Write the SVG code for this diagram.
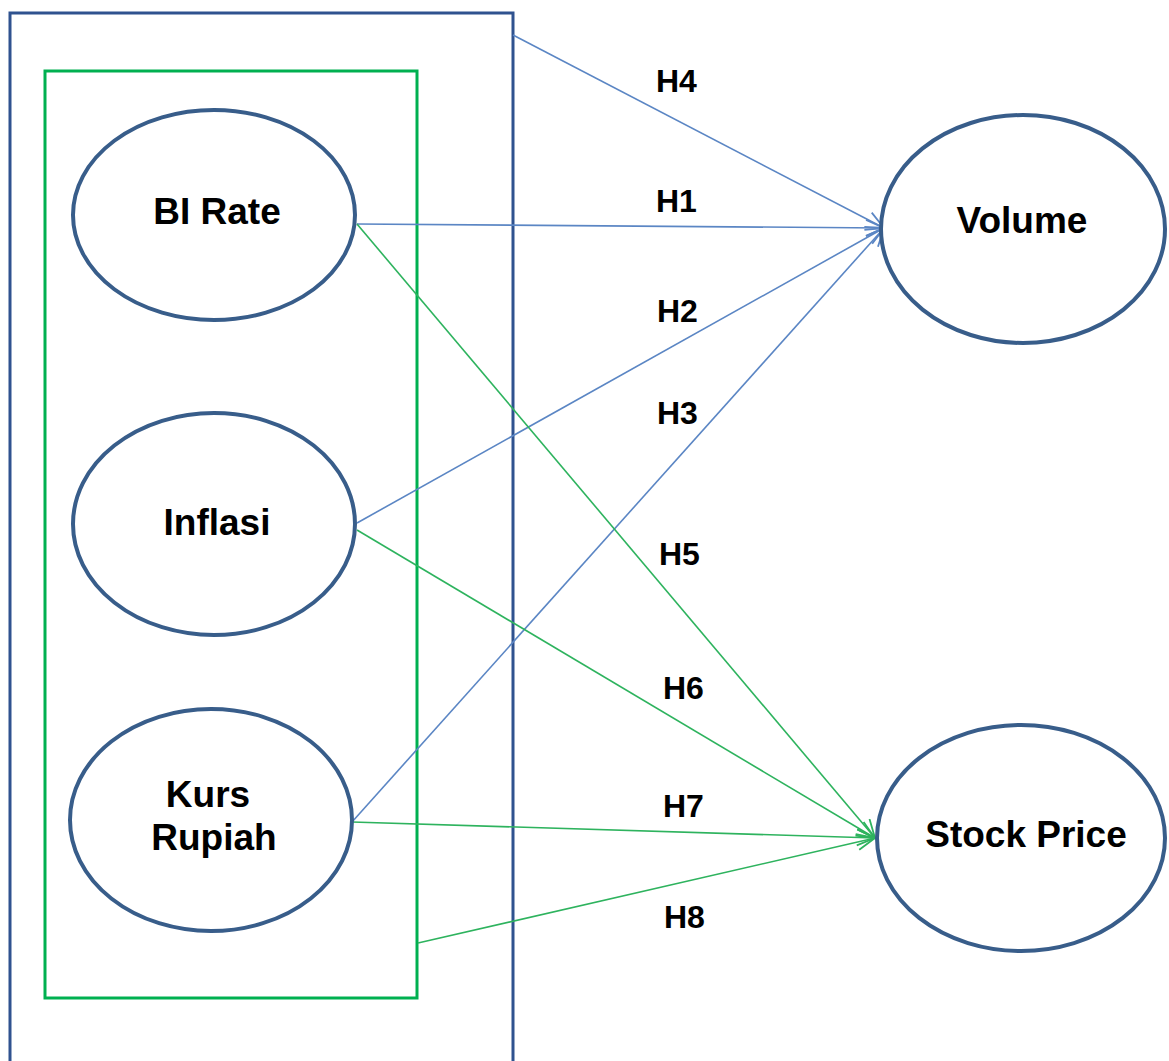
<svg xmlns="http://www.w3.org/2000/svg" width="1169" height="1061" viewBox="0 0 1169 1061">
<style>
.node{fill:#fff;stroke:#385d8a;stroke-width:4}
.lbl{font-family:"Liberation Sans",Arial,sans-serif;font-weight:bold;font-size:37px;fill:#000;text-anchor:middle}
.h{font-family:"Liberation Sans",Arial,sans-serif;font-weight:bold;font-size:32px;fill:#000}
.b{stroke:#5b86c4;stroke-width:1.6;fill:none}
.g{stroke:#2eb35e;stroke-width:1.6;fill:none}
</style>
<defs>
<marker id="ab" markerUnits="userSpaceOnUse" markerWidth="24" markerHeight="20" refX="20" refY="9" orient="auto" viewBox="0 0 24 20">
<path d="M2,1 L20,9 L2,17" fill="none" stroke="#5b86c4" stroke-width="1.8"/>
</marker>
<marker id="ag" markerUnits="userSpaceOnUse" markerWidth="24" markerHeight="20" refX="20" refY="9" orient="auto" viewBox="0 0 24 20">
<path d="M2,1 L20,9 L2,17" fill="none" stroke="#2eb35e" stroke-width="1.8"/>
</marker>
</defs>
<rect width="1169" height="1061" fill="#fff"/>
<g id="outer-box"><path d="M10,1061 L10,13 L513,13 L513,1061" fill="none" stroke="#2f528f" stroke-width="3"/></g>
<g id="inner-box"><rect x="45" y="71" width="372" height="927" fill="none" stroke="#00b050" stroke-width="3"/></g>
<g id="connectors">
<line class="b" x1="513" y1="35" x2="884" y2="228" marker-end="url(#ab)"/>
<line class="b" x1="357" y1="224" x2="884" y2="228" marker-end="url(#ab)"/>
<line class="b" x1="357" y1="523" x2="884" y2="228" marker-end="url(#ab)"/>
<line class="b" x1="352" y1="822" x2="884" y2="228" marker-end="url(#ab)"/>
<line class="g" x1="357" y1="224" x2="875" y2="838" marker-end="url(#ag)"/>
<line class="g" x1="357" y1="530" x2="875" y2="838" marker-end="url(#ag)"/>
<line class="g" x1="352" y1="822" x2="875" y2="838" marker-end="url(#ag)"/>
<line class="g" x1="418" y1="943" x2="875" y2="838" marker-end="url(#ag)"/>
</g>
<g id="labels">
<text class="h" x="656" y="92">H4</text>
<text class="h" x="656" y="212">H1</text>
<text class="h" x="657" y="322">H2</text>
<text class="h" x="657" y="424">H3</text>
<text class="h" x="659" y="565">H5</text>
<text class="h" x="663" y="699">H6</text>
<text class="h" x="663" y="817">H7</text>
<text class="h" x="664" y="928">H8</text>
</g>
<g id="bi-rate"><ellipse class="node" cx="214" cy="215" rx="141" ry="105"/><text class="lbl" x="217" y="224">BI Rate</text></g>
<g id="inflasi"><ellipse class="node" cx="214" cy="524" rx="141" ry="111"/><text class="lbl" x="217" y="535">Inflasi</text></g>
<g id="kurs-rupiah"><ellipse class="node" cx="211" cy="820" rx="141" ry="111"/><text class="lbl" x="208" y="807">Kurs</text><text class="lbl" x="214" y="850">Rupiah</text></g>
<g id="volume"><ellipse class="node" cx="1023" cy="229" rx="142" ry="114"/><text class="lbl" x="1022" y="233">Volume</text></g>
<g id="stock-price"><ellipse class="node" cx="1021" cy="838" rx="144" ry="113"/><text class="lbl" x="1026" y="847">Stock Price</text></g>
</svg>
